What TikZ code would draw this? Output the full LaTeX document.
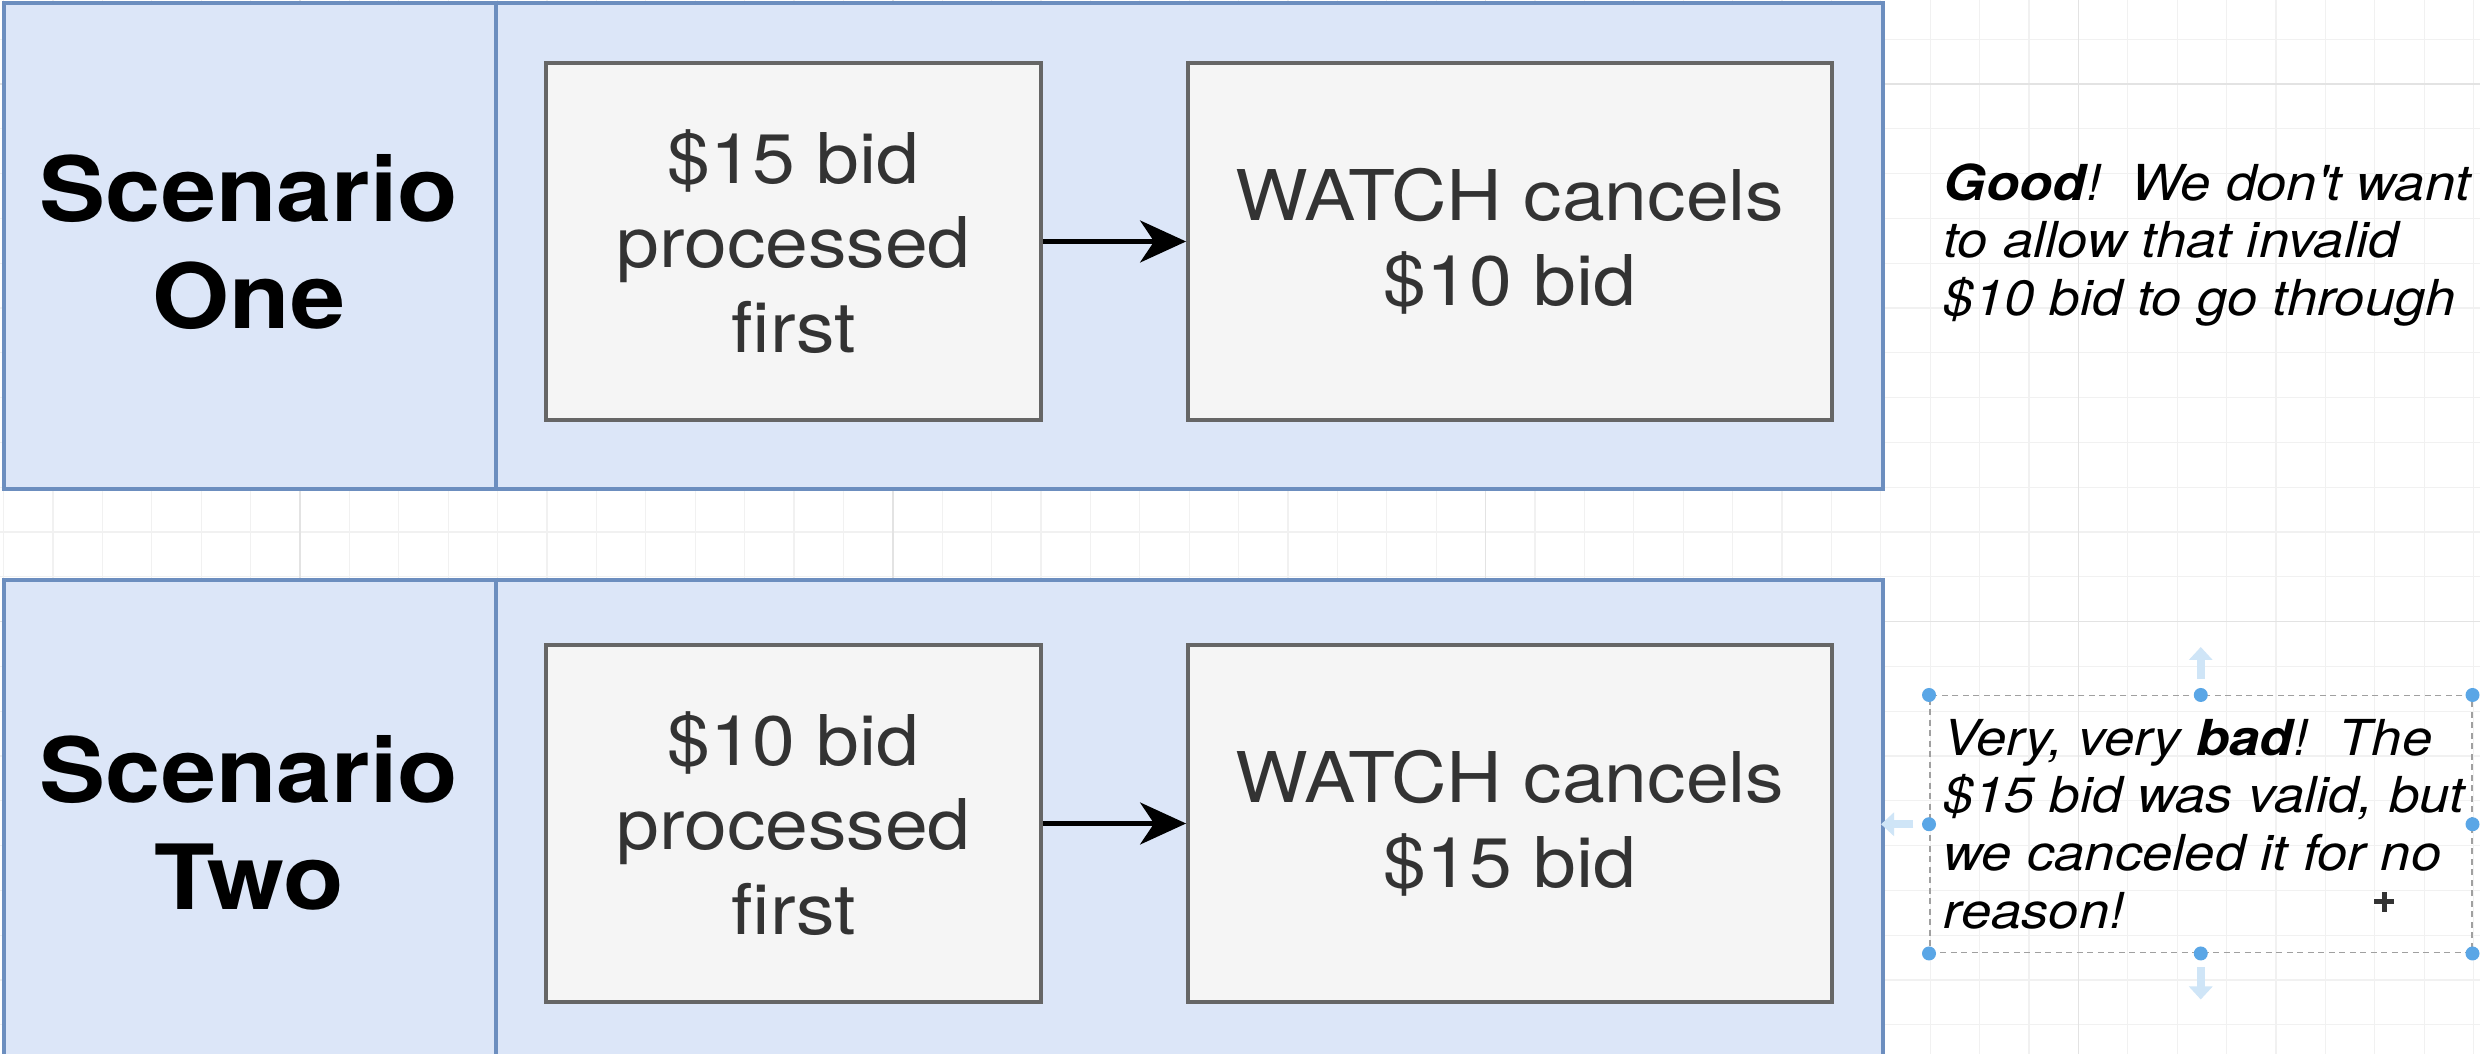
\documentclass[tikz,border=0pt]{standalone}
\usepackage{fontspec}
\newfontfamily\hv[FakeStretch=1.1]{TeX Gyre Heros}
\usetikzlibrary{arrows.meta}
\definecolor{lanefill}{HTML}{DCE6F8}
\definecolor{lanedraw}{HTML}{6C8EBF}
\definecolor{boxfill}{HTML}{F5F5F5}
\definecolor{boxdraw}{HTML}{666666}
\definecolor{boxtext}{HTML}{333333}
\definecolor{gridminor}{HTML}{F1F1F1}
\definecolor{gridmajor}{HTML}{E3E3E3}
\definecolor{handle}{HTML}{5AA6E6}
\definecolor{hint}{HTML}{CFE5F7}
\definecolor{seldash}{HTML}{A0A0A0}
\begin{document}
\begin{tikzpicture}[x=0.1mm,y=-0.1mm,
  lane/.style={rectangle, draw=lanedraw, fill=lanefill, line width=1.1pt, inner sep=0pt, anchor=north west},
  divider/.style={draw=lanedraw, line width=1.1pt},
  header/.style={rectangle, inner sep=0pt, align=center, text=black,
    font=\hv\bfseries\fontsize{25.6pt}{30.4pt}\selectfont},
  stepbox/.style={rectangle, draw=boxdraw, fill=boxfill, line width=1.1pt, text=boxtext,
    align=center, inner sep=0pt, minimum height=35.7mm,
    font=\hv\fontsize{19.9pt}{24.1pt}\selectfont},
  conn/.style={-{Stealth[length=4.6mm,width=4.2mm,inset=1.4mm]}, line width=1.2pt, draw=black},
  note/.style={inner sep=0pt, align=left, anchor=west, text=black,
    font=\hv\itshape\fontsize{14.1pt}{16.4pt}\selectfont},
  selbox/.style={rectangle, draw=seldash, line width=0.15mm, dash pattern=on 0.6mm off 0.45mm,
    inner sep=0pt, anchor=north west, minimum width=54.2mm, minimum height=25.7mm},
  dot/.style={circle, fill=handle, inner sep=0pt, minimum size=1.4mm},
  hintarrow/.style={draw=hint, line width=0.8mm, -{Triangle[length=1.3mm,width=2.3mm]}},
  gridline/.style={draw=gridminor, line width=0.12mm},
  gridmaj/.style={draw=gridmajor, line width=0.15mm}
]
\useasboundingbox (0,0) rectangle (2480,1054);
\clip (0,0) rectangle (2480,1054);
\fill[white] (0,0) rectangle (2480,1054);

% background grid
\foreach \k in {0,...,50} {
  \draw[gridline] ({3.6+\k*49.4},0) -- ({3.6+\k*49.4},1054);
}
\foreach \k in {1,...,24} {
  \draw[gridline] (0,{-5.6+\k*44.8}) -- (2480,{-5.6+\k*44.8});
}
\foreach \k in {6,18,30,42} {
  \draw[gridmaj] ({3.6+\k*49.4},0) -- ({3.6+\k*49.4},1054);
}
\foreach \k in {2,14} {
  \draw[gridmaj] (0,{-5.6+\k*44.8}) -- (2480,{-5.6+\k*44.8});
}

% lanes
\node[lane, minimum width=187.9mm, minimum height=48.6mm] (lane1) at (2,1) {};
\node[lane, minimum width=187.9mm, minimum height=51mm] (lane2) at (2,578) {};
\draw[divider] (496,1) -- (496,487);
\draw[divider] (496,578) -- (496,1090);

\node[header] (h1) at (249,242) {Scenario\\One};
\node[header] (h2) at (249,823) {Scenario\\Two};

% steps
\node[stepbox, minimum width=49.5mm] (a1) at (793.5,241.5) {\$15 bid\\processed\\first};
\node[stepbox, minimum width=64.4mm] (a2) at (1510,241.5) {WATCH cancels\\\$10 bid};
\node[stepbox, minimum width=49.5mm] (b1) at (793.5,823.5) {\$10 bid\\processed\\first};
\node[stepbox, minimum width=64.4mm] (b2) at (1510,823.5) {WATCH cancels\\\$15 bid};

\draw[conn] (a1) -- (a2);
\draw[conn] (b1) -- (b2);

% notes
\node[note] (good) at (1943,245) {{\bfseries Good}!\ \ We don\textquotesingle t want\\to allow that invalid\\\$10 bid to go through};

\node[selbox] (sel) at (1929,695) {};
\node[note] (bad) at (1943,824) {Very, very {\bfseries bad}!\ \ The\\\$15 bid was valid, but\\we canceled it for no\\reason!};

% selection handles
\foreach \a in {north west,north,north east,west,east,south west,south,south east} {
  \node[dot] at (sel.\a) {};
}
\draw[hintarrow] ([yshift=1.6mm]sel.north) -- ([yshift=4.8mm]sel.north);
\draw[hintarrow] ([yshift=-1.4mm]sel.south) -- ([yshift=-4.6mm]sel.south);
\draw[hintarrow] ([xshift=-1.6mm]sel.west) -- ([xshift=-4.8mm]sel.west);

% cursor
\coordinate (cur) at (2384,902);
\draw[white, line width=0.9mm] ([xshift=-1.1mm]cur) -- ([xshift=1.1mm]cur) ([yshift=-1.1mm]cur) -- ([yshift=1.1mm]cur);
\draw[black!80, line width=0.5mm] ([xshift=-1mm]cur) -- ([xshift=1mm]cur) ([yshift=-1mm]cur) -- ([yshift=1mm]cur);
\end{tikzpicture}
\end{document}
